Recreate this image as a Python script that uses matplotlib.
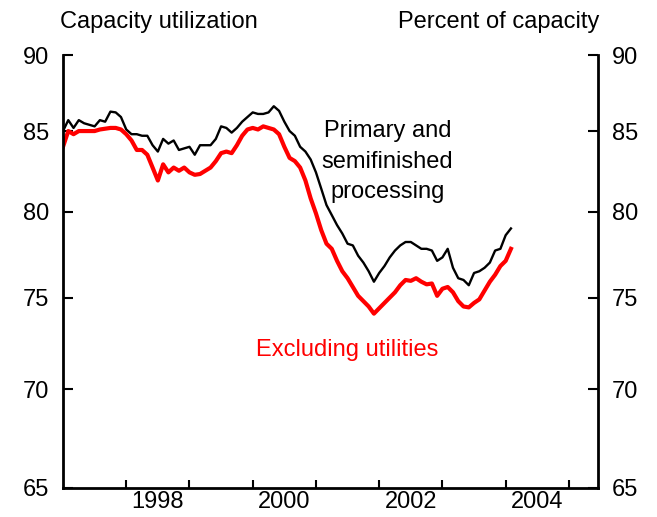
import numpy as np
import matplotlib
matplotlib.use("Agg")
import matplotlib.pyplot as plt
from matplotlib.ticker import FixedLocator, NullFormatter, NullLocator

plt.rcParams['font.family'] = ['Liberation Sans', 'DejaVu Sans']

# monthly, Jan 1997 onward
start_year = 1997
primary = [85.0, 85.7, 85.2, 85.7, 85.5, 85.4, 85.3, 85.7, 85.6, 86.25, 86.2, 85.9,
           85.1, 84.8, 84.8, 84.7, 84.7, 84.1, 83.7, 84.5, 84.2, 84.4, 83.8, 83.9,
           84.0, 83.5, 84.1, 84.1, 84.1, 84.5, 85.3, 85.2, 84.9, 85.2, 85.6, 85.9,
           86.2, 86.1, 86.1, 86.2, 86.6, 86.3, 85.6, 85.0, 84.7, 84.0, 83.7, 83.2,
           82.4, 81.4, 80.4, 79.8, 79.2, 78.7, 78.1, 78.0, 77.4, 77.0, 76.5, 75.9,
           76.4, 76.8, 77.3, 77.7, 78.0, 78.2, 78.2, 78.0, 77.8, 77.8, 77.7, 77.1,
           77.3, 77.8, 76.7, 76.1, 76.0, 75.7, 76.4, 76.5, 76.7, 77.0, 77.7, 77.8,
           78.6, 79.0]
excl_util = [84.0, 85.0, 84.8, 85.0, 85.0, 85.0, 85.0, 85.1, 85.15, 85.2, 85.2, 85.1,
             84.8, 84.4, 83.8, 83.8, 83.5, 82.7, 81.9, 82.9, 82.4, 82.7, 82.5, 82.7,
             82.4, 82.25, 82.3, 82.5, 82.7, 83.1, 83.6, 83.7, 83.6, 84.1, 84.7, 85.1,
             85.2, 85.1, 85.3, 85.2, 85.1, 84.8, 84.0, 83.3, 83.1, 82.7, 81.9, 80.8,
             79.9, 78.9, 78.1, 77.8, 77.1, 76.5, 76.1, 75.6, 75.1, 74.8, 74.5, 74.1,
             74.4, 74.7, 75.0, 75.3, 75.7, 76.0, 75.95, 76.1, 75.9, 75.75, 75.8, 75.1,
             75.5, 75.6, 75.3, 74.8, 74.5, 74.45, 74.7, 74.9, 75.4, 75.9, 76.3, 76.8,
             77.1, 77.8]
yticks = [65, 70, 75, 80, 85, 90]
year_ticks = list(range(1998, 2006))
year_labels = ['1998', '2000', '2002', '2004']

t = start_year + np.arange(len(primary)) / 12
fs = 17

fig = plt.figure(figsize=(6.57, 5.17), dpi=100)
ax = fig.add_axes([63 / 657, 1 - 488 / 517, (598 - 63) / 657, (488 - 55) / 517])

ax.plot(t, primary, color='black', lw=1.7)
ax.plot(t, excl_util, color='#ff0000', lw=3)

ax.set_yscale('log')
ax.set_ylim(65, 90)
ax.set_xlim(1997, 2005.46)

ax.yaxis.set_major_locator(FixedLocator(yticks))
ax.yaxis.set_major_formatter(plt.FixedFormatter([str(v) for v in yticks]))
ax.yaxis.set_minor_locator(NullLocator())
ax.yaxis.set_minor_formatter(NullFormatter())
ax.tick_params(axis='y', which='major', direction='in', length=7, width=1.5,
               labelsize=fs, left=True, right=True, labelleft=True, labelright=True, pad=10)

ax.xaxis.set_major_locator(FixedLocator(year_ticks))
ax.xaxis.set_major_formatter(NullFormatter())
ax.xaxis.set_minor_locator(FixedLocator([int(y) + 0.5 for y in year_labels]))
ax.xaxis.set_minor_formatter(plt.FixedFormatter(year_labels))
ax.tick_params(axis='x', which='major', direction='in', length=6, width=1.5)
ax.tick_params(axis='x', which='minor', length=0, labelsize=fs, pad=2)

for s in ax.spines.values():
    s.set_linewidth(2)
ax.spines['top'].set_visible(False)

fig.text(60 / 657, 1 - 22 / 517, 'Capacity utilization', fontsize=fs, ha='left', va='center')
fig.text(599 / 657, 1 - 22 / 517, 'Percent of capacity', fontsize=fs, ha='right', va='center')

ax.text(2002.13, 83.05, 'Primary and\nsemifinished\nprocessing', fontsize=fs,
        ha='center', va='center', multialignment='center', linespacing=1.5)
ax.text(2001.5, 72.1, 'Excluding utilities', fontsize=fs, color='#ff0000',
        ha='center', va='center')

fig.savefig('out.png', dpi=100)
